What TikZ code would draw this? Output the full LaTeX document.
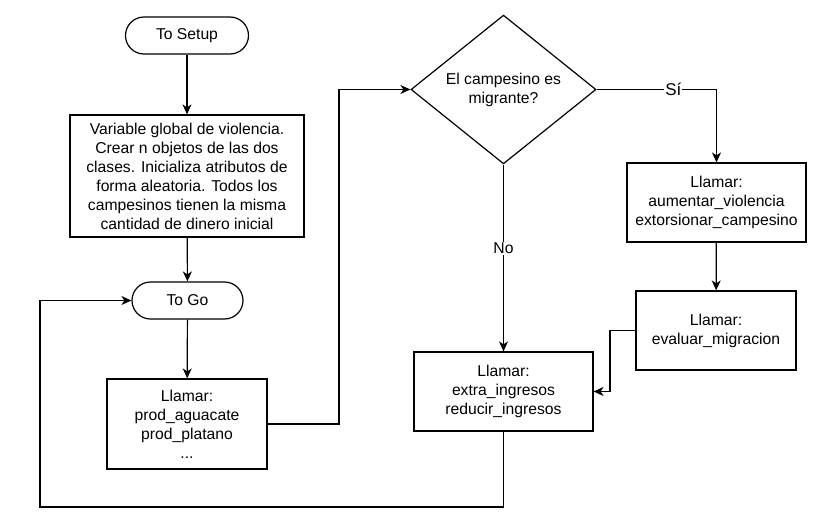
\documentclass[tikz,border=0pt]{standalone}
\usepackage{fontspec}
\setmainfont{Liberation Sans}
\usetikzlibrary{shapes.geometric,arrows.meta}
\begin{document}
\begin{tikzpicture}[x=1pt,y=-1pt,
  every node/.style={font=\fontsize{15.7pt}{19pt}\selectfont, align=center, line width=1.2pt},
  term/.style={draw, rectangle, rounded corners=18.5pt, minimum height=37pt, inner sep=0pt},
  proc/.style={draw, rectangle, inner sep=0pt},
  dec/.style={draw, diamond, inner sep=0pt, minimum width=185pt, minimum height=137pt},
  conn/.style={line width=1.2pt, -{Stealth[length=10pt,width=9pt,inset=3pt]}},
  lbl/.style={fill=white, inner sep=1pt}
]
\useasboundingbox (0,0) rectangle (825,522);

\node[term, minimum width=123pt] (setup) at (187,35.5) {To Setup};
\node[proc, minimum width=234pt, minimum height=122pt] (init) at (187,176) {Variable global de violencia.\\Crear n objetos de las dos\\clases. Inicializa atributos de\\forma aleatoria. Todos los\\campesinos tienen la misma\\cantidad de dinero inicial};
\node[term, minimum width=111pt] (togo) at (187.5,300.5) {To Go};
\node[proc, minimum width=160pt, minimum height=90pt] (prod) at (187,424) {Llamar:\\prod\_aguacate\\prod\_platano\\...};
\node[dec] (dia) at (503.5,89.5) {El campesino es\\migrante?};
\node[proc, minimum width=179pt, minimum height=79pt] (viol) at (716.5,202.5) {Llamar:\\aumentar\_violencia\\extorsionar\_campesino};
\node[proc, minimum width=160pt, minimum height=79pt] (migr) at (716,330.5) {Llamar:\\evaluar\_migracion};
\node[proc, minimum width=179pt, minimum height=79pt] (ingr) at (503.5,391.5) {Llamar:\\extra\_ingresos\\reducir\_ingresos};

\coordinate (j1) at (339,424);
\coordinate (j2) at (610,330.5);
\coordinate (j3) at (503.5,507);
\coordinate (j4) at (40,507);

\draw[conn] (setup) -- (init);
\draw[conn] (init) -- (togo);
\draw[conn] (togo) -- (prod);
\draw[conn] (prod.east) -- (j1) |- (dia.west);
\draw[conn] (dia.east) -| node[lbl, pos=0.32, font=\fontsize{17pt}{19pt}\selectfont] {Sí} (viol.north);
\draw[conn] (dia.south) -- node[lbl, pos=0.45] {No} (ingr.north);
\draw[conn] (viol) -- (migr);
\draw[conn] (migr.west) -- (j2) |- (ingr.east);
\draw[conn] (ingr.south) -- (j3) -- (j4) |- (togo.west);
\end{tikzpicture}
\end{document}
